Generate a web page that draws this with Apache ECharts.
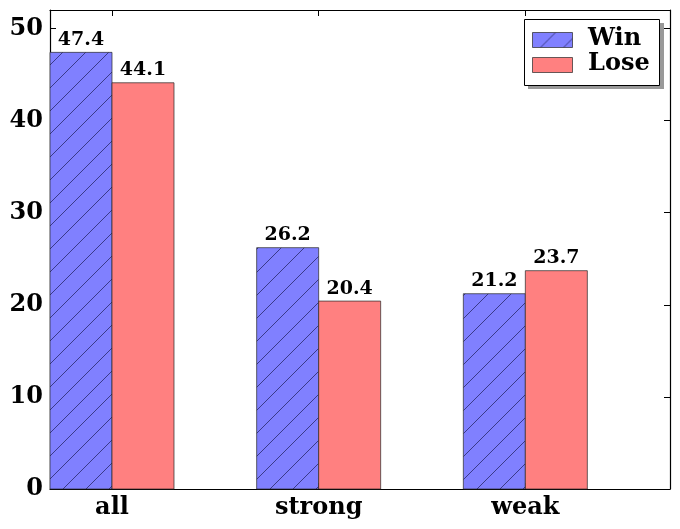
<!DOCTYPE html>
<html>
<head>
<meta charset="utf-8">
<script src="https://cdn.jsdelivr.net/npm/echarts@6/dist/echarts.min.js"></script>
<style>
html,body{margin:0;padding:0;background:#fff;}
#chart{width:680px;height:529px;}
</style>
</head>
<body>
<div id="chart"></div>
<script>
const categories = ['all', 'strong', 'weak'];
const winValues = [47.4, 26.2, 21.2];
const loseValues = [44.1, 20.4, 23.7];
const seriesNames = ['Win', 'Lose'];
const yTicks = [0, 10, 20, 30, 40, 50];

const BW = 0.3;
const FONT = '"DejaVu Serif", serif';
const WIN_COLOR = '#8080ff';
const LOSE_COLOR = '#ff8080';
const EDGE = 'rgba(40,40,40,0.7)';

// hatch pattern canvas
function makeHatch() {
  const s = 23;
  const c = document.createElement('canvas');
  c.width = s; c.height = s;
  const ctx = c.getContext('2d');
  ctx.fillStyle = WIN_COLOR;
  ctx.fillRect(0, 0, s, s);
  ctx.strokeStyle = 'rgba(30,30,90,0.8)';
  ctx.lineWidth = 0.9;
  ctx.beginPath();
  ctx.moveTo(-2, s + 2); ctx.lineTo(s + 2, -2);
  ctx.moveTo(-2, 2); ctx.lineTo(2, -2);
  ctx.moveTo(s - 2, s + 2); ctx.lineTo(s + 2, s - 2);
  ctx.stroke();
  return c;
}
const hatch = { image: makeHatch(), repeat: 'repeat' };

const tickPos = categories.map((c, i) => i + BW);

function barRender(fill) {
  return function (params, api) {
    const x0 = api.value(0);
    const v = api.value(1);
    const p0 = api.coord([x0, v]);
    const p1 = api.coord([x0 + BW, 0]);
    const pc = api.coord([x0 + BW / 2, v]);
    return {
      type: 'group',
      children: [
        {
          type: 'rect',
          shape: { x: p0[0], y: p0[1], width: p1[0] - p0[0], height: p1[1] - p0[1] },
          style: { fill: fill, stroke: EDGE, lineWidth: 1 }
        },
        {
          type: 'text',
          x: pc[0], y: pc[1] - 3,
          style: {
            text: v.toFixed(1),
            align: 'center', verticalAlign: 'bottom',
            font: 'bold 19px ' + FONT, fill: '#000'
          },
          z2: 10
        }
      ]
    };
  };
}

const chart = echarts.init(document.getElementById('chart'), null, { renderer: 'canvas' });

const axisCommon = {
  type: 'value',
  axisLine: { show: true, onZero: false, lineStyle: { color: '#000', width: 1.2 } },
  splitLine: { show: false }
};

const option = {
  animation: false,
  backgroundColor: '#fff',
  grid: { left: 50, right: 10, top: 10, bottom: 40 },
  xAxis: [
    Object.assign({}, axisCommon, {
      position: 'bottom', min: 0, max: 3,
      axisTick: { show: true, inside: true, length: 6, customValues: tickPos, lineStyle: { color: '#000' } },
      axisLabel: {
        customValues: tickPos,
        formatter: v => categories[Math.round(v - BW)],
        fontFamily: FONT, fontWeight: 'bold', fontSize: 24, color: '#000', margin: 7
      }
    }),
    Object.assign({}, axisCommon, {
      position: 'top', min: 0, max: 3,
      axisTick: { show: true, inside: true, length: 6, customValues: tickPos, lineStyle: { color: '#000' } },
      axisLabel: { show: false }
    })
  ],
  yAxis: [
    Object.assign({}, axisCommon, {
      position: 'left', min: 0, max: 52,
      axisTick: { show: true, inside: true, length: 6, customValues: yTicks, lineStyle: { color: '#000' } },
      axisLabel: {
        customValues: yTicks,
        fontFamily: FONT, fontWeight: 'bold', fontSize: 24, color: '#000', margin: 7
      }
    }),
    Object.assign({}, axisCommon, {
      position: 'right', min: 0, max: 52,
      axisTick: { show: true, inside: true, length: 6, customValues: yTicks, lineStyle: { color: '#000' } },
      axisLabel: { show: false }
    })
  ],
  series: [
    {
      name: seriesNames[0], type: 'custom', xAxisIndex: 0, yAxisIndex: 0,
      renderItem: barRender(hatch),
      encode: { x: 0, y: 1 },
      data: winValues.map((v, i) => [i, v])
    },
    {
      name: seriesNames[1], type: 'custom', xAxisIndex: 0, yAxisIndex: 0,
      renderItem: barRender(LOSE_COLOR),
      encode: { x: 0, y: 1 },
      data: loseValues.map((v, i) => [i + BW, v])
    }
  ],
  graphic: [
    { type: 'rect', left: 528, top: 23, shape: { width: 136, height: 66 }, style: { fill: '#999' }, z: 100 },
    { type: 'rect', left: 524, top: 19, shape: { width: 135, height: 66 }, style: { fill: '#fff', stroke: '#000', lineWidth: 1 }, z: 101 },
    { type: 'rect', left: 532, top: 32, shape: { width: 40, height: 15 }, style: { fill: hatch, stroke: EDGE, lineWidth: 1 }, z: 102 },
    { type: 'rect', left: 532, top: 57, shape: { width: 40, height: 15 }, style: { fill: LOSE_COLOR, stroke: EDGE, lineWidth: 1 }, z: 102 },
    { type: 'text', x: 588, y: 39, style: { text: seriesNames[0], font: 'bold 24px ' + FONT, fill: '#000', verticalAlign: 'middle' }, z: 102 },
    { type: 'text', x: 588, y: 64, style: { text: seriesNames[1], font: 'bold 24px ' + FONT, fill: '#000', verticalAlign: 'middle' }, z: 102 }
  ]
};
chart.setOption(option);
</script>
</body>
</html>
